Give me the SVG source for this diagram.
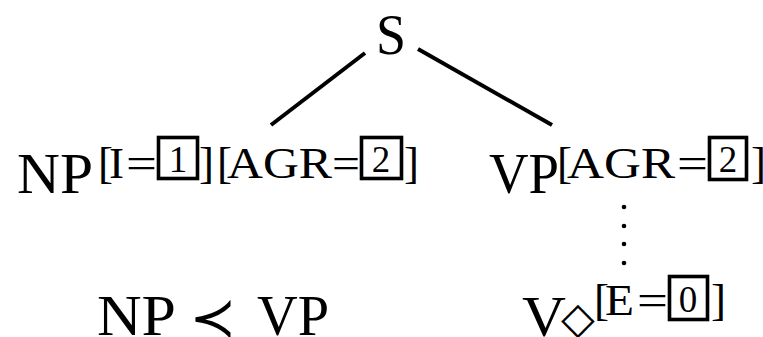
<svg xmlns="http://www.w3.org/2000/svg" width="763" height="337" viewBox="0 0 763 337">
<style>
text{font-family:"Liberation Serif","DejaVu Serif",serif;fill:#000}
.m{font-size:57px}
.s{font-size:45px}
.d{font-size:37px;text-anchor:middle}
.box{fill:none;stroke:#000;stroke-width:3.6}
.edge{stroke:#000;stroke-width:4;stroke-linecap:butt;fill:none}
</style>
<rect width="763" height="337" fill="#fff"/>
<g id="connectors">
<line class="edge" x1="365" y1="53" x2="271" y2="125"/>
<line class="edge" x1="418" y1="49" x2="552" y2="125"/>
<g id="dots" fill="#000">
<circle cx="624" cy="207" r="2.3"/>
<circle cx="624" cy="226" r="2.3"/>
<circle cx="624" cy="244" r="2.3"/>
<circle cx="624" cy="263" r="2.3"/>
</g>
</g>
<g id="node-S">
<text class="m" x="376" y="54" textLength="30" lengthAdjust="spacingAndGlyphs">S</text>
</g>
<g id="node-NP">
<text class="m" x="17" y="193" textLength="76" lengthAdjust="spacingAndGlyphs">NP</text>
<text class="s" x="98" y="178">[</text>
<text class="s" x="109" y="178" textLength="15" lengthAdjust="spacingAndGlyphs">I</text>
<text class="s" x="126" y="178" textLength="31" lengthAdjust="spacingAndGlyphs">=</text>
<rect class="box" x="158.5" y="137.5" width="39" height="41"/>
<text class="d" x="178" y="172">1</text>
<text class="s" x="199" y="178">]</text>
<text class="s" x="217" y="178">[</text>
<text class="s" x="227" y="178" textLength="105" lengthAdjust="spacingAndGlyphs">AGR</text>
<text class="s" x="332" y="178" textLength="28" lengthAdjust="spacingAndGlyphs">=</text>
<rect class="box" x="361.5" y="137.5" width="40" height="41"/>
<text class="d" x="381" y="172">2</text>
<text class="s" x="404" y="178">]</text>
</g>
<g id="node-VP">
<text class="m" x="489" y="193" textLength="70" lengthAdjust="spacingAndGlyphs">VP</text>
<text class="s" x="557" y="178">[</text>
<text class="s" x="567" y="178" textLength="108" lengthAdjust="spacingAndGlyphs">AGR</text>
<text class="s" x="677" y="178" textLength="31" lengthAdjust="spacingAndGlyphs">=</text>
<rect class="box" x="709.5" y="137.5" width="37" height="42"/>
<text class="d" x="728" y="172">2</text>
<text class="s" x="751" y="178">]</text>
</g>
<g id="node-V">
<text class="m" x="522" y="336" textLength="44" lengthAdjust="spacingAndGlyphs">V</text>
<text x="578" y="333" font-size="44" text-anchor="middle" style="font-family:'DejaVu Sans',sans-serif">◇</text>
<text class="s" x="594" y="315">[</text>
<text class="s" x="605" y="315" textLength="29" lengthAdjust="spacingAndGlyphs">E</text>
<text class="s" x="637" y="315" textLength="31" lengthAdjust="spacingAndGlyphs">=</text>
<rect class="box" x="669.5" y="276.5" width="38" height="43"/>
<text class="d" x="688" y="312">0</text>
<text class="s" x="711" y="315">]</text>
</g>
<g id="node-precedence">
<text class="m" x="97" y="335" textLength="79" lengthAdjust="spacingAndGlyphs">NP</text>
<text x="213" y="337" font-size="56" text-anchor="middle" style="font-family:'DejaVu Sans',sans-serif">≺</text>
<text class="m" x="257" y="335" textLength="72" lengthAdjust="spacingAndGlyphs">VP</text>
</g>
</svg>
